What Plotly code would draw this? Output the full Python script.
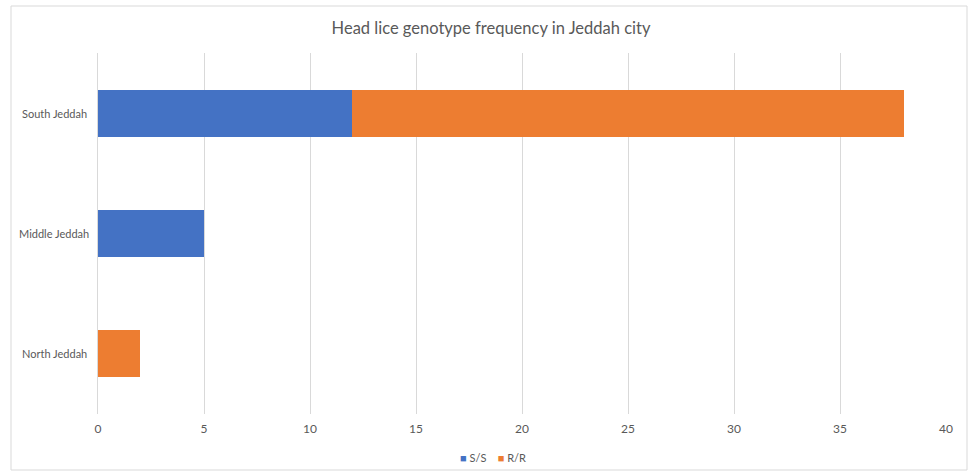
import plotly.graph_objects as go

categories = ["North Jeddah", "Middle Jeddah", "South Jeddah"]
ss_values = [0, 5, 12]
rr_values = [2, 0, 26]
series_names = ["S/S", "R/R"]
series_colors = ["#4472C4", "#ED7D31"]
title_text = "Head lice genotype frequency in Jeddah city"

W, H = 969, 471
L, R, T, B = 98, 23, 53, 57
pw, ph = W - L - R, H - T - B

def px_x(p):
    return (p - L) / pw

def px_y(p):
    return (H - B - p) / ph

fig = go.Figure()
fig.add_trace(go.Bar(y=categories, x=ss_values, orientation="h", name=series_names[0],
                     marker=dict(color=series_colors[0], line=dict(width=0)), showlegend=False))
fig.add_trace(go.Bar(y=categories, x=rr_values, orientation="h", name=series_names[1],
                     marker=dict(color=series_colors[1], line=dict(width=0)), showlegend=False))

font_family = "Lato, 'Open Sans', sans-serif"
fig.update_layout(
    width=W, height=H,
    margin=dict(l=L, r=R, t=T, b=B, autoexpand=False),
    barmode="stack", bargap=0.61,
    plot_bgcolor="white", paper_bgcolor="white",
    font=dict(family=font_family, color="#595959", size=12),
    title=dict(text=title_text, x=px_x(491), xanchor="center", xref="paper",
               y=1 - 28 / H, yanchor="middle", font=dict(size=16.5, color="#595959")),
    xaxis=dict(range=[0, 40], dtick=5, showgrid=True, gridcolor="#d9d9d9", gridwidth=1,
               zeroline=False, showline=False, ticks="", ticklabelstandoff=6,
               tickfont=dict(size=12, color="#595959")),
    yaxis=dict(showgrid=False, showticklabels=False, zeroline=False,
               showline=True, linecolor="#d9d9d9", linewidth=1),
    showlegend=False,
)

for c in categories:
    fig.add_annotation(text=c, x=px_x(54), xref="paper", y=c, yref="y",
                       xanchor="center", yanchor="middle", showarrow=False,
                       font=dict(size=11, color="#595959"))

legend_html = "&nbsp;&nbsp;&nbsp;&nbsp;".join(
    f"<span style='color:{col}; font-size:11px'>■</span>&nbsp;{name}"
    for name, col in zip(series_names, series_colors)
)
fig.add_annotation(text=legend_html, x=px_x(493), xref="paper", y=px_y(457), yref="paper",
                   xanchor="center", yanchor="middle", showarrow=False,
                   font=dict(size=11, color="#595959"))

fig.add_shape(type="rect", xref="paper", yref="paper",
              x0=px_x(11), x1=px_x(967), y0=px_y(470), y1=px_y(6),
              line=dict(color="#d9d9d9", width=1), fillcolor="rgba(0,0,0,0)", layer="below")

fig.write_html("out.html")
